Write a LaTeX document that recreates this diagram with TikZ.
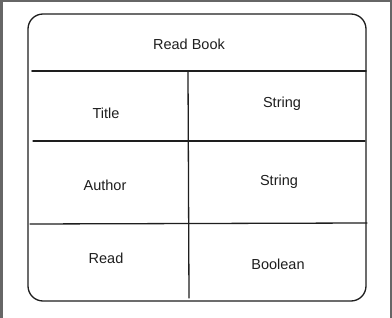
\documentclass[tikz,border=0pt]{standalone}
\usepackage{fontspec}
\setmainfont{Liberation Sans}
\definecolor{ink}{HTML}{1E1E1E}
\definecolor{frame}{HTML}{666666}
\begin{document}
\begin{tikzpicture}[x=1pt,y=-1pt,
  cell/.style={inner sep=0pt,font=\fontsize{14.5}{17}\selectfont,text=ink},
  rule/.style={draw=ink,line width=1.3pt,line cap=round},
  thickrule/.style={draw=ink,line width=1.8pt,line cap=round}]
  % page and thin grey frame on top, left and right
  \useasboundingbox (0,0) rectangle (392,318);
  \fill[white] (0,0) rectangle (392,318);
  \fill[frame] (0,0) rectangle (392,2.2);
  \fill[frame] (0,0) rectangle (2.6,318);
  \fill[frame] (389.6,0) rectangle (392,318);

  % outer rounded table
  \draw[rule,rounded corners=15pt] (28,14) rectangle (366,301);

  % grid coordinates
  \coordinate (h1) at (32,71);   \coordinate (h2) at (366,71);
  \coordinate (r1) at (33,141);  \coordinate (r2) at (365,141);
  \coordinate (s1) at (30,224);  \coordinate (s2) at (367,223);
  \coordinate (v1) at (188,71);  \coordinate (v2) at (189,298);

  \draw[thickrule] (h1) -- (h2);
  \draw[rule] (r1) -- (r2);
  \draw[rule] (s1) -- (s2);
  \draw[rule] (v1) -- (v2);

  % cell texts
  \node[cell] (head) at (189,44) {Read Book};
  \node[cell] (k1) at (106,113) {Title};
  \node[cell] (t1) at (282,104) {String};
  \node[cell] (k2) at (105,185) {Author};
  \node[cell] (t2) at (279,182) {String};
  \node[cell] (k3) at (106,258) {Read};
  \node[cell] (t3) at (278,264) {Boolean};
\end{tikzpicture}
\end{document}
